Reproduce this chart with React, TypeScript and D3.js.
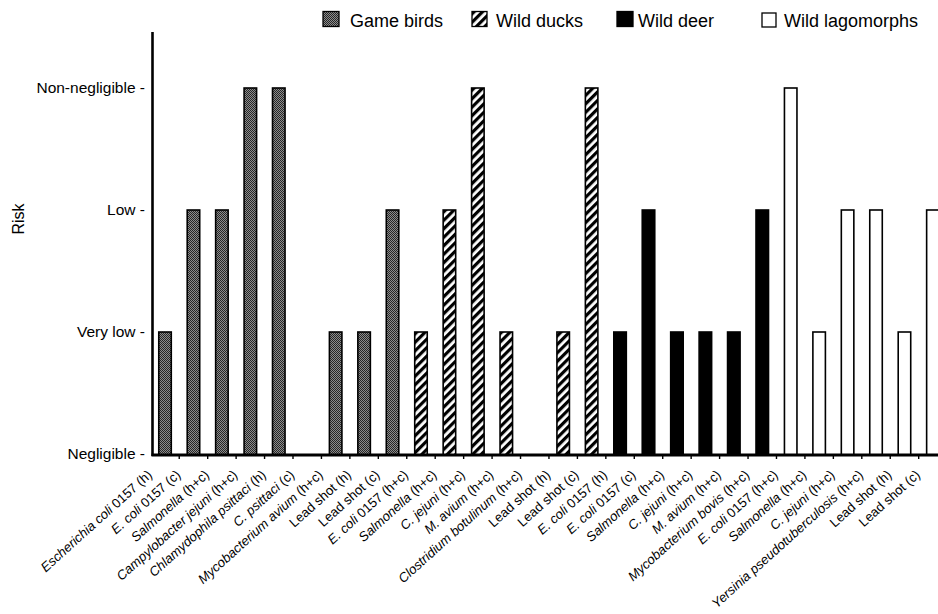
import React from "react";
import * as d3 from "d3";

const riskLevels = ["Negligible", "Very low", "Low", "Non-negligible"];

const gameBirdCategories = [
  "Escherichia coli|0157 (h)",
  "E. coli|0157 (c)",
  "Salmonella|(h+c)",
  "Campylobacter jejuni|(h+c)",
  "Chlamydophila psittaci|(h)",
  "C. psittaci|(c)",
  "Mycobacterium avium|(h+c)",
  "|Lead shot (h)",
  "|Lead shot (c)",
];
const gameBirdRisk = [1, 2, 2, 3, 3, 0, 1, 1, 2];

const wildDuckCategories = [
  "E. coli|0157 (h+c)",
  "Salmonella|(h+c)",
  "C. jejuni|(h+c)",
  "M. avium|(h+c)",
  "Clostridium botulinum|(h+c)",
  "|Lead shot (h)",
  "|Lead shot (c)",
];
const wildDuckRisk = [1, 2, 3, 1, 0, 1, 3];

const wildDeerCategories = [
  "E. coli|0157 (h)",
  "E. coli|0157 (c)",
  "Salmonella|(h+c)",
  "C. jejuni|(h+c)",
  "M. avium|(h+c)",
  "Mycobacterium bovis|(h+c)",
];
const wildDeerRisk = [1, 2, 1, 1, 1, 2];

const lagomorphCategories = [
  "E. coli|0157 (h+c)",
  "Salmonella|(h+c)",
  "C. jejuni|(h+c)",
  "Yersinia pseudotuberculosis|(h+c)",
  "|Lead shot (h)",
  "|Lead shot (c)",
];
const lagomorphRisk = [3, 1, 2, 2, 1, 2];

const groupNames = ["Game birds", "Wild ducks", "Wild deer", "Wild lagomorphs"];

const W = 938;
const H = 614;
const FONT = "'Liberation Sans', Arial, Helvetica, sans-serif";

export default function App() {
  const groups = [
    { name: groupNames[0], cats: gameBirdCategories, vals: gameBirdRisk, fill: "url(#stipple)" },
    { name: groupNames[1], cats: wildDuckCategories, vals: wildDuckRisk, fill: "url(#hatch)" },
    { name: groupNames[2], cats: wildDeerCategories, vals: wildDeerRisk, fill: "#000" },
    { name: groupNames[3], cats: lagomorphCategories, vals: lagomorphRisk, fill: "#fff" },
  ];
  const rows: { key: string; label: string; value: number; fill: string }[] = [];
  groups.forEach((g, gi) =>
    g.cats.forEach((c, i) =>
      rows.push({ key: `${gi}-${i}`, label: c, value: g.vals[i], fill: g.fill })
    )
  );

  const x = d3
    .scaleBand<string>()
    .domain(rows.map((r) => r.key))
    .range([150.8, 150.8 + 28.44 * rows.length])
    .paddingInner(0.56)
    .paddingOuter(0.28);
  const y = d3.scaleLinear().domain([0, 3]).range([454, 88]);
  const axisX = 152.5;
  const baseY = 455;

  const legendItems = [
    { name: groupNames[0], fill: "url(#stipple)", sx: 323, tx: 350, sy: 11.5, sw: 16, sh: 15 },
    { name: groupNames[1], fill: "url(#hatch)", sx: 472, tx: 496, sy: 11.5, sw: 15, sh: 15 },
    { name: groupNames[2], fill: "#000", sx: 617, tx: 638, sy: 11.5, sw: 16, sh: 15 },
    { name: groupNames[3], fill: "#fff", sx: 762, tx: 784, sy: 13, sw: 14, sh: 14 },
  ];

  return (
    <svg
      width={W}
      height={H}
      style={{ position: "absolute", left: 0, top: 0, background: "#fff" }}
      fontFamily={FONT}
    >
      <defs>
        <pattern id="stipple" patternUnits="userSpaceOnUse" width="2" height="2">
          <rect width="2" height="2" fill="#8c8c8c" />
          <rect width="1" height="1" fill="#262626" />
          <rect x="1" y="1" width="1" height="1" fill="#262626" />
        </pattern>
        <pattern
          id="hatch"
          patternUnits="userSpaceOnUse"
          width="6"
          height="6"
          patternTransform="rotate(45)"
        >
          <rect width="6" height="6" fill="#fff" />
          <rect width="3.2" height="6" fill="#000" />
        </pattern>
      </defs>

      {/* Legend */}
      {legendItems.map((l) => (
        <g key={l.name}>
          <rect x={l.sx} y={l.sy} width={l.sw} height={l.sh} fill={l.fill} stroke="#000" strokeWidth={1.3} />
          <text x={l.tx} y={27} fontSize={18}>
            {l.name}
          </text>
        </g>
      ))}

      {/* Y axis label */}
      <text transform={`translate(24,219) rotate(-90)`} textAnchor="middle" fontSize={16}>
        Risk
      </text>

      {/* Y tick labels */}
      {riskLevels.map((lv, i) => (
        <text key={lv} x={145} y={y(i)} dy="0.35em" textAnchor="end" fontSize={15.5}>
          {lv + " -"}
        </text>
      ))}

      {/* Bars */}
      {rows
        .filter((r) => r.value > 0)
        .map((r) => (
          <rect
            key={r.key}
            x={x(r.key)}
            y={y(r.value)}
            width={x.bandwidth()}
            height={baseY - y(r.value)}
            fill={r.fill}
            stroke="#000"
            strokeWidth={1.6}
          />
        ))}

      {/* Axes */}
      <line x1={axisX} x2={axisX} y1={32} y2={baseY + 1} stroke="#000" strokeWidth={2.6} />
      <line x1={axisX - 1} x2={W} y1={baseY} y2={baseY} stroke="#000" strokeWidth={3} />
      {rows.slice(1).map((r) => (
        <line
          key={"t" + r.key}
          x1={(x(r.key) as number) - (x.step() - x.bandwidth()) / 2}
          x2={(x(r.key) as number) - (x.step() - x.bandwidth()) / 2}
          y1={baseY}
          y2={baseY + 4}
          stroke="#000"
          strokeWidth={1.4}
        />
      ))}

      {/* X tick labels */}
      {rows.map((r) => {
        const [it, plain] = r.label.split("|");
        const cx = (x(r.key) as number) + x.bandwidth() / 2;
        return (
          <text
            key={"l" + r.key}
            transform={`translate(${cx - 12},${476}) rotate(-42)`}
            textAnchor="end"
            fontSize={13.2}
          >
            {it && <tspan fontStyle="italic">{it}</tspan>}
            {it ? " " + plain : plain}
          </text>
        );
      })}
    </svg>
  );
}
